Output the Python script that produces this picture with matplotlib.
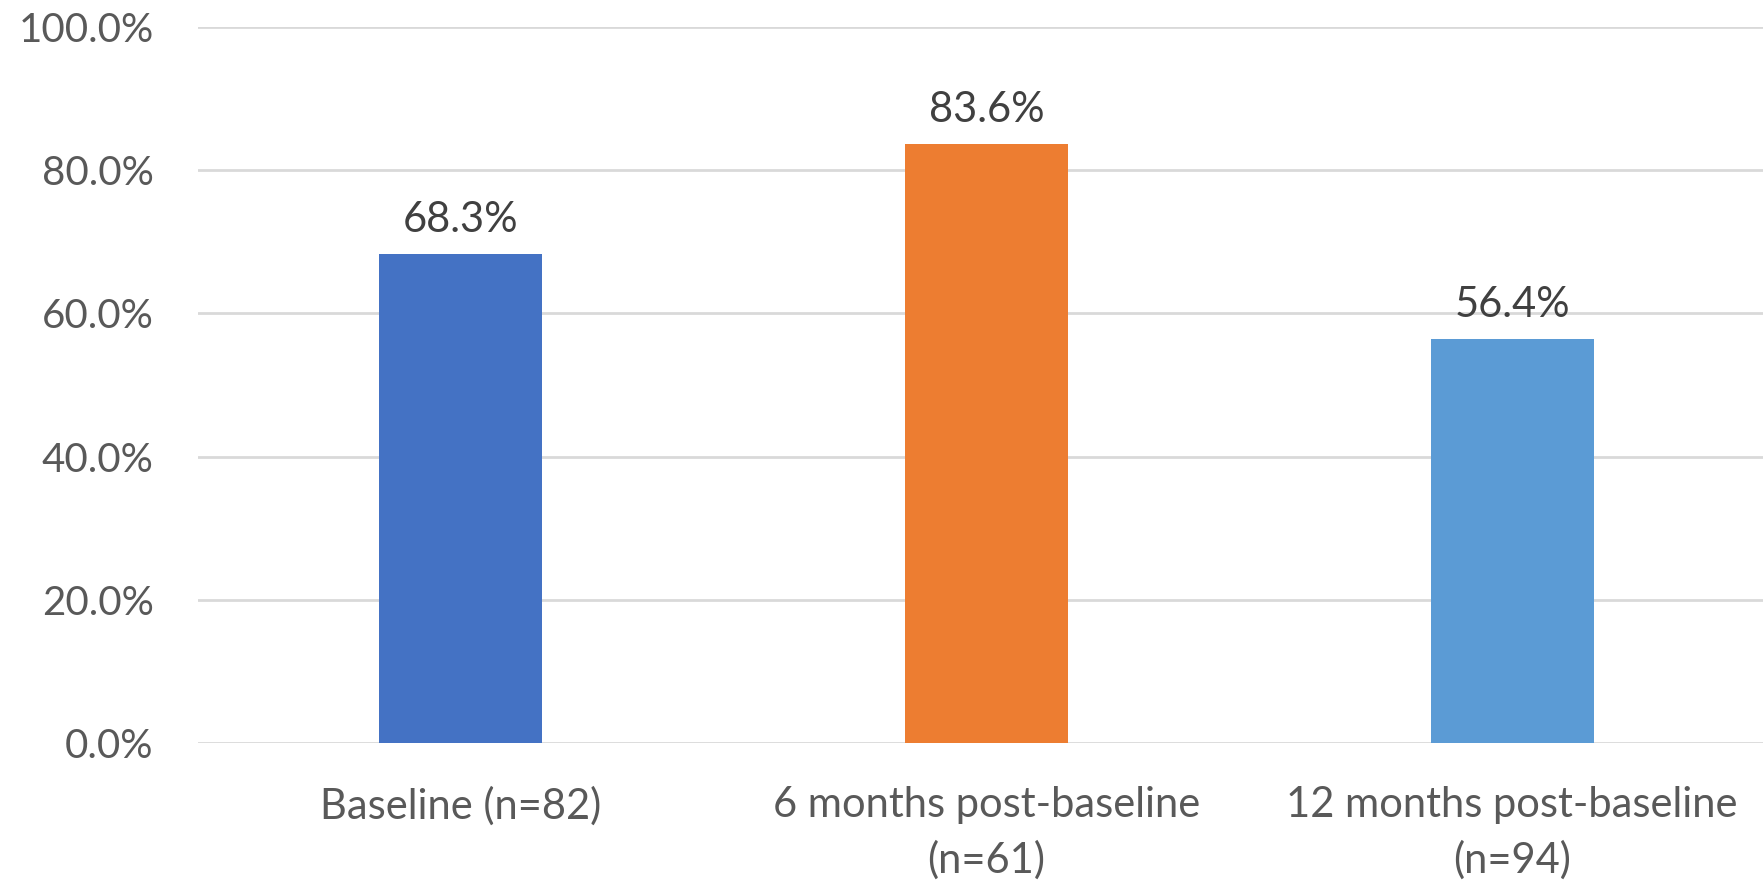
import matplotlib
matplotlib.use("Agg")
import matplotlib.pyplot as plt
from matplotlib.ticker import FuncFormatter

categories = ["Baseline (n=82)", "6 months post-baseline\n(n=61)", "12 months post-baseline\n(n=94)"]
values = [68.3, 83.6, 56.4]
bar_colors = ["#4472C4", "#ED7D31", "#5B9BD5"]
y_ticks = [0, 20, 40, 60, 80, 100]

plt.rcParams["font.family"] = ["Lato", "DejaVu Sans"]

W, H = 1763, 885
fig = plt.figure(figsize=(W / 100, H / 100), dpi=100)
left, right, bottom, top = 198, 1775, 743, 27
ax = fig.add_axes([left / W, 1 - bottom / H, (right - left) / W, (bottom - top) / H])

x = list(range(len(categories)))
ax.bar(x, values, width=0.31, color=bar_colors, zorder=3)
for xi, v in zip(x, values):
    ax.annotate(f"{v:.1f}%", (xi, v), xytext=(0, 11), textcoords="offset points",
                ha="center", va="bottom", fontsize=30, color="#404040")

ax.set_xlim(-0.5, len(categories) - 0.5)
ax.set_ylim(0, 100)
ax.set_yticks(y_ticks)
ax.yaxis.set_major_formatter(FuncFormatter(lambda v, p: f"{v:.1f}%"))
ax.set_xticks(x)
ax.set_xticklabels(categories, linespacing=1.5)
ax.tick_params(axis="y", length=0, pad=32, labelsize=29, labelcolor="#595959")
ax.tick_params(axis="x", length=0, pad=31, labelsize=30, labelcolor="#595959")
ax.grid(axis="y", color="#d9d9d9", linewidth=2, zorder=0)
for s in ax.spines.values():
    s.set_visible(False)

fig.savefig("out.png", dpi=100, facecolor="white")
